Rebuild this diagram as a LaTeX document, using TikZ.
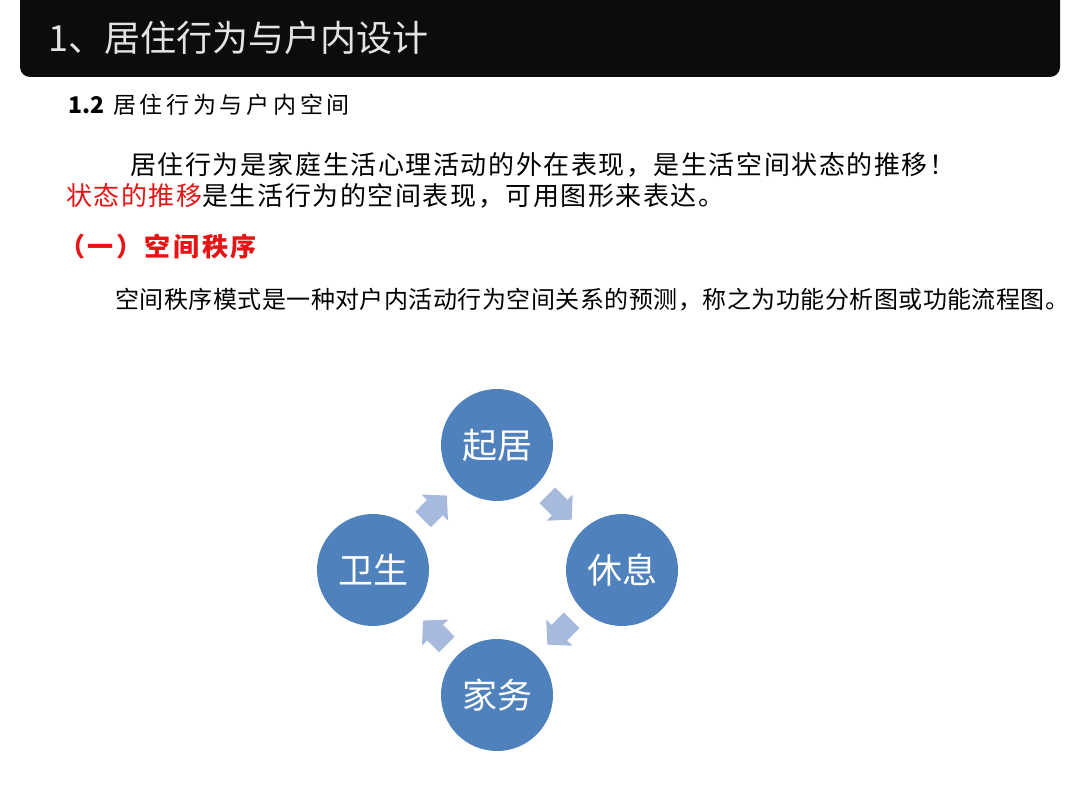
\documentclass[tikz,border=0pt]{standalone}
\usepackage{fontspec}
\setmainfont{Noto Sans CJK SC}
\usetikzlibrary{arrows.meta}

\definecolor{headblack}{RGB}{12,12,12}
\definecolor{titlegray}{RGB}{228,228,228}
\definecolor{stageblue}{RGB}{79,129,189}
\definecolor{flowblue}{RGB}{167,185,220}
\definecolor{notered}{RGB}{230,20,20}

\tikzset{
  txt/.style={anchor=west, inner sep=0pt},
  stage/.style={circle, fill=stageblue, minimum size=112pt, inner sep=0pt,
    text=white, font=\fontsize{35}{38}\selectfont},
  flow/.style={color=flowblue, line width=22pt,
    -{Triangle[length=17pt,width=37pt,line width=0pt]},
    shorten <=15pt, shorten >=15pt}
}

\begin{document}
\begin{tikzpicture}[x=1pt, y=-1pt]
  \useasboundingbox (0,0) rectangle (1080,810);
  \fill[white] (0,0) rectangle (1080,810);
  % header bar
  \fill[headblack, rounded corners=10pt] (20,-20) rectangle (1060,77);
  \node[txt, text=titlegray, font=\fontsize{36}{40}\selectfont] (title) at (48,38) {1、居住行为与户内设计};
  % text lines
  \node[txt, font=\fontsize{23}{26}\selectfont] (sect) at (68,105)
    {\textbf{1.2}\hspace{9pt}\addfontfeature{LetterSpace=16}居住行为与户内空间};
  \node[txt, font=\fontsize{26}{30}\selectfont\addfontfeature{LetterSpace=6}] (lineA) at (130,165)
    {居住行为是家庭生活心理活动的外在表现，是生活空间状态的推移！};
  \node[txt, font=\fontsize{26}{30}\selectfont\addfontfeature{LetterSpace=6}] (lineB) at (66,196)
    {\textcolor{notered}{状态的推移}是生活行为的空间表现，可用图形来表达。};
  \node[txt, text=notered, font=\bfseries\fontsize{26}{30}\selectfont\addfontfeature{LetterSpace=10}] (part) at (59,247)
    {（一）空间秩序};
  \node[txt, font=\fontsize{24}{28}\selectfont\addfontfeature{LetterSpace=2}] (lineC) at (115,300)
    {空间秩序模式是一种对户内活动行为空间关系的预测，称之为功能分析图或功能流程图。};
  % cycle
  \node[stage] (qiju) at (497,445) {起居};
  \node[stage] (xiuxi) at (622,570) {休息};
  \node[stage] (jiawu) at (497,695) {家务};
  \node[stage] (weisheng) at (373,570) {卫生};
  \path[flow]
  (qiju) edge (xiuxi)
  (xiuxi) edge (jiawu)
  (jiawu) edge (weisheng)
  (weisheng) edge (qiju)
  ;
\end{tikzpicture}
\end{document}
